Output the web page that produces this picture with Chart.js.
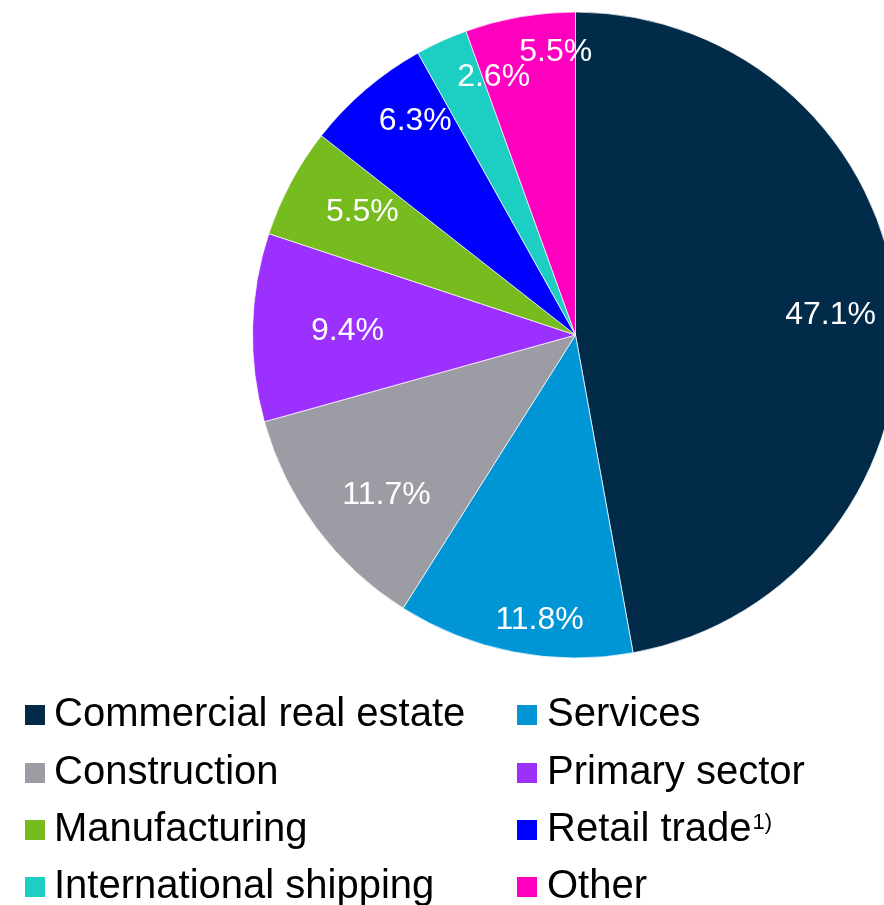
<!DOCTYPE html>
<html>
<head>
<meta charset="utf-8">
<title>Loan portfolio by sector</title>
<script src="https://cdn.jsdelivr.net/npm/chart.js@4/dist/chart.umd.min.js"></script>
<style>
    html, body {
        margin: 0;
        padding: 0;
        background: #fff;
        overflow: hidden;
        width: 884px;
        height: 905px;
    }
    .chart-wrap {
        position: absolute;
        left: 0;
        top: 0;
        width: 1151px;
        height: 905px;
    }
</style>
</head>
<body>
<div class="chart-wrap">
    <canvas id="sectorChart"></canvas>
</div>
<script>
// Sector split, clockwise from 12 o'clock
const sectors = [
    'Commercial real estate',
    'Services',
    'Construction',
    'Primary sector',
    'Manufacturing',
    'Retail trade',
    'International shipping',
    'Other'
];
const shares = [47.1, 11.8, 11.7, 9.4, 5.5, 6.3, 2.6, 5.5];
const footnotes = ['', '', '', '', '', '1)', '', ''];

const sectorColors = [
    '#022B4A',
    '#0096D6',
    '#9C9CA4',
    '#9B30FF',
    '#77BC1F',
    '#0000FF',
    '#1DCFC2',
    '#FF00BF'
];

// label placement inside each slice: share of radius, angle nudge in degrees
const labelRadius = [0.792, 0.889, 0.767, 0.706, 0.762, 0.827, 0.838, 0.878];
const labelNudge = [0.8, -3.8, -3.6, -0.3, 1.8, 3.7, 6.9, 5.9];

// legend grid: order of the entries in the two columns
const legendOrder = [0, 1, 2, 3, 4, 5, 6, 7];

const FONT = '"Liberation Sans", Arial, sans-serif';

const sliceLabels = {
    id: 'sliceLabels',
    afterDatasetsDraw(chart) {
        const ctx = chart.ctx;
        const meta = chart.getDatasetMeta(0);
        ctx.save();
        ctx.font = `32px ${FONT}`;
        ctx.fillStyle = '#ffffff';
        ctx.textAlign = 'center';
        ctx.textBaseline = 'middle';
        meta.data.forEach((arc, i) => {
            const p = arc.getProps(['x', 'y', 'startAngle', 'endAngle', 'outerRadius'], true);
            const mid = (p.startAngle + p.endAngle) / 2 + labelNudge[i] * Math.PI / 180;
            const r = p.outerRadius * labelRadius[i];
            const value = chart.data.datasets[0].data[i];
            ctx.fillText(value.toFixed(1) + '%', p.x + Math.cos(mid) * r, p.y + Math.sin(mid) * r);
        });
        ctx.restore();
    }
};

const gridLegend = {
    id: 'gridLegend',
    afterDraw(chart) {
        const ctx = chart.ctx;
        const colors = chart.data.datasets[0].backgroundColor;
        const colX = [25, 517];
        const textX = [54, 547];
        const baselines = [726, 784, 841, 898];
        ctx.save();
        ctx.textAlign = 'left';
        ctx.textBaseline = 'alphabetic';
        legendOrder.forEach((idx, n) => {
            const col = n % 2;
            const row = Math.floor(n / 2);
            const base = baselines[row];
            ctx.fillStyle = colors[idx];
            ctx.fillRect(colX[col], base - 21, 20, 20);
            ctx.fillStyle = '#000000';
            ctx.font = `40px ${FONT}`;
            const label = chart.data.labels[idx];
            ctx.fillText(label, textX[col], base);
            if (footnotes[idx]) {
                const w = ctx.measureText(label).width;
                ctx.font = `22px ${FONT}`;
                ctx.fillText(footnotes[idx], textX[col] + w + 1, base - 12);
            }
        });
        ctx.restore();
    }
};

new Chart(document.getElementById('sectorChart'), {
    type: 'pie',
    data: {
        labels: sectors,
        datasets: [{
            data: shares,
            backgroundColor: sectorColors,
            borderColor: 'rgba(255,255,255,0.7)',
            borderWidth: 1
        }]
    },
    options: {
        responsive: true,
        maintainAspectRatio: false,
        animation: false,
        radius: 323,
        layout: {
            padding: { top: 12, bottom: 247, left: 0, right: 0 }
        },
        plugins: {
            legend: { display: false },
            tooltip: { enabled: false }
        }
    },
    plugins: [sliceLabels, gridLegend]
});
</script>
</body>
</html>
